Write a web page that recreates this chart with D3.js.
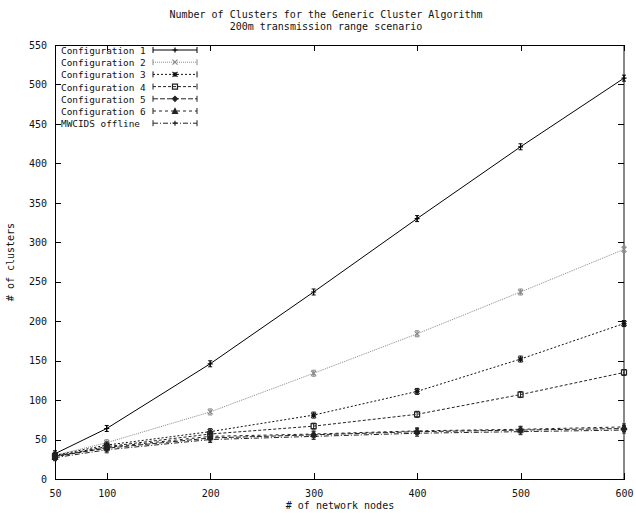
<!DOCTYPE html>
<html>
<head>
<meta charset="utf-8">
<script src="https://cdn.jsdelivr.net/npm/d3@7"></script>
<style>
  html, body { margin: 0; padding: 0; background: #fff; }
  svg text { font-family: "DejaVu Sans Mono", "Liberation Mono", monospace; font-size: 10px; fill: #111; }
  svg .legend text { font-size: 9.4px; }
</style>
</head>
<body>
<svg id="chart" width="636" height="513"></svg>
<script>
// Network sizes (x axis) and cluster counts per configuration
const nodes = [50, 100, 200, 300, 400, 500, 600];
const config1 = [32, 64, 146, 237, 330, 421, 508];
const config2 = [30, 46, 85, 134, 184, 237, 291];
const config3 = [30, 43, 60, 81, 111, 152, 197];
const config4 = [29, 41, 57, 67, 82, 107, 135];
const config5 = [29, 39, 52, 56, 60, 62, 64];
const config6 = [28, 40, 54, 57, 61, 63, 66];
const mwcids  = [27, 37, 50, 54, 58, 60, 62];

const seriesNames = ["Configuration 1", "Configuration 2", "Configuration 3",
  "Configuration 4", "Configuration 5", "Configuration 6", "MWCIDS offline"];
const seriesValues = [config1, config2, config3, config4, config5, config6, mwcids];

const xTicks = [50, 100, 200, 300, 400, 500, 600];
const yTicks = [0, 50, 100, 150, 200, 250, 300, 350, 400, 450, 500, 550];

const titleLines = ["Number of Clusters for the Generic Cluster Algorithm",
  "200m transmission range scenario"];
const xTitle = "# of network nodes";
const yTitle = "# of clusters";

// line and point style per series
const styles = [
  { color: "#000", dash: null,      mark: "plus" },
  { color: "#8a8a8a", dash: "1,1",  mark: "cross" },
  { color: "#111", dash: "2,2",     mark: "star" },
  { color: "#222", dash: "3,2",     mark: "square" },
  { color: "#222", dash: "5,2",     mark: "diamond" },
  { color: "#222", dash: "3,3",     mark: "triangle" },
  { color: "#222", dash: "5,2,1,2", mark: "plus" }
];

const svg = d3.select("#chart");
const plot = { left: 55, right: 624, top: 45, bottom: 479 };

const x = d3.scaleLinear().domain([50, 600]).range([plot.left, plot.right]);
const y = d3.scaleLinear().domain([0, 550]).range([plot.bottom, plot.top]);

// title
svg.append("g").selectAll("text").data(titleLines).join("text")
  .attr("x", 326).attr("y", (d, i) => 18 + i * 11.5)
  .attr("text-anchor", "middle").text(d => d);

// frame
svg.append("rect")
  .attr("x", plot.left).attr("y", plot.top)
  .attr("width", plot.right - plot.left).attr("height", plot.bottom - plot.top)
  .attr("fill", "none").attr("stroke", "#000").attr("stroke-width", 1)
  .attr("shape-rendering", "crispEdges");
svg.append("line")
  .attr("x1", plot.right).attr("x2", plot.right)
  .attr("y1", plot.top).attr("y2", plot.bottom)
  .attr("stroke", "#888").attr("stroke-width", 2);

// axes with inward ticks, mirrored on opposite sides
const tickLen = 6;
const xAxis = d3.axisBottom(x).tickValues(xTicks).tickSize(-tickLen).tickPadding(10).tickFormat(d3.format("d"));
const gx = svg.append("g").attr("transform", `translate(0,${plot.bottom})`).call(xAxis);
const xTop = d3.axisTop(x).tickValues(xTicks).tickSize(-tickLen).tickFormat("");
const gxt = svg.append("g").attr("transform", `translate(0,${plot.top})`).call(xTop);
const yAxis = d3.axisLeft(y).tickValues(yTicks).tickSize(-tickLen).tickPadding(8).tickFormat(d3.format("d"));
const gy = svg.append("g").attr("transform", `translate(${plot.left},0)`).call(yAxis);
const yRight = d3.axisRight(y).tickValues(yTicks).tickSize(-tickLen).tickFormat("");
const gyr = svg.append("g").attr("transform", `translate(${plot.right},0)`).call(yRight);
[gx, gxt, gy, gyr].forEach(g => {
  g.select(".domain").remove();
  g.selectAll(".tick line").attr("stroke", "#000").attr("shape-rendering", "crispEdges");
  g.selectAll("text").attr("font-family", null).attr("font-size", null).attr("fill", "#111");
});
gx.selectAll(".tick text").attr("dy", "0.75em");

// axis titles
svg.append("text").attr("x", 340).attr("y", 509).attr("text-anchor", "middle").text(xTitle);
svg.append("text").attr("transform", "translate(14,262) rotate(-90)")
  .attr("text-anchor", "middle").text(yTitle);

// point symbols
function markPath(type, s) {
  switch (type) {
    case "plus": return `M${-s},0H${s}M0,${-s}V${s}`;
    case "cross": return `M${-s},${-s}L${s},${s}M${-s},${s}L${s},${-s}`;
    case "star": return `M${-s},0H${s}M0,${-s}V${s}M${-s},${-s}L${s},${s}M${-s},${s}L${s},${-s}`;
    case "square": return `M${-s},${-s}H${s}V${s}H${-s}Z`;
    case "diamond": return `M0,${-s}L${s},0L0,${s}L${-s},0Z`;
    case "triangle": return `M0,${-s}L${s},${s}H${-s}Z`;
  }
}

const line = d3.line().x((d, i) => x(nodes[i])).y(d => y(d));

const seriesG = svg.append("g");
seriesValues.forEach((vals, k) => {
  const st = styles[k];
  const g = seriesG.append("g");
  g.append("path").datum(vals)
    .attr("d", line).attr("fill", "none")
    .attr("stroke", st.color).attr("stroke-width", 1)
    .attr("stroke-dasharray", st.dash);
  const pts = g.selectAll("g.pt").data(vals).join("g")
    .attr("class", "pt")
    .attr("transform", (d, i) => `translate(${x(nodes[i])},${y(d)})`);
  // small error bars
  pts.append("path").attr("d", "M0,-3V3M-2,-3H2M-2,3H2")
    .attr("stroke", st.color).attr("fill", "none");
  pts.append("path").attr("d", markPath(st.mark, 2.5))
    .attr("stroke", st.color).attr("stroke-width", 1.2)
    .attr("fill", st.mark === "triangle" || st.mark === "diamond" ? st.color : "none");
});

// legend
const legend = svg.append("g").attr("class", "legend");
seriesNames.forEach((name, k) => {
  const st = styles[k];
  const yy = 50 + k * 12.2;
  legend.append("text").attr("x", 61).attr("y", yy + 4).text(name);
  const x1 = 153, x2 = 197;
  legend.append("line").attr("x1", x1).attr("x2", x2).attr("y1", yy).attr("y2", yy)
    .attr("stroke", st.color).attr("stroke-dasharray", st.dash);
  legend.append("path").attr("d", `M${x1},${yy - 3}V${yy + 3}M${x2},${yy - 3}V${yy + 3}`)
    .attr("stroke", st.color);
  legend.append("path").attr("transform", `translate(${(x1 + x2) / 2},${yy})`)
    .attr("d", markPath(st.mark, 2.5))
    .attr("stroke", st.color).attr("stroke-width", 1.2)
    .attr("fill", st.mark === "triangle" || st.mark === "diamond" ? st.color : "none");
});
</script>
</body>
</html>
